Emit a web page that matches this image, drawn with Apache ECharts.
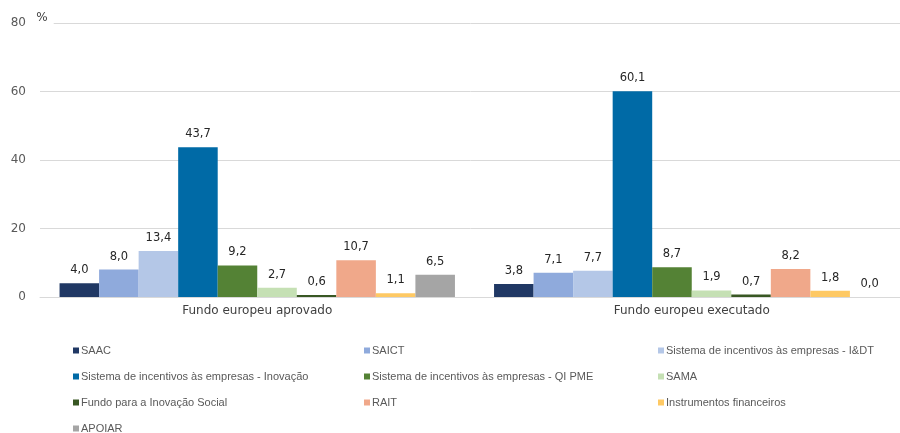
<!DOCTYPE html>
<html>
<head>
<meta charset="utf-8">
<script src="https://cdn.jsdelivr.net/npm/echarts@6/dist/echarts.min.js"></script>
<style>
	html, body { margin: 0; padding: 0; background: #fff; }
	#chart { width: 900px; height: 433px; }
</style>
</head>
<body>
<div id="chart"></div>
<script>
	// categorias do eixo x
	var categories = ['Fundo europeu aprovado', 'Fundo europeu executado']

	// nomes das séries (ordem do gráfico)
	var seriesNames = [
		'SAAC',
		'SAICT',
		'Sistema de incentivos às empresas - I&DT',
		'Sistema de incentivos às empresas - Inovação',
		'Sistema de incentivos às empresas - QI PME',
		'SAMA',
		'Fundo para a Inovação Social',
		'RAIT',
		'Instrumentos financeiros',
		'APOIAR'
	]

	// valores (%) por série: [aprovado, executado]
	var saac = [4.0, 3.8]
	var saict = [8.0, 7.1]
	var siIDT = [13.4, 7.7]
	var siInovacao = [43.7, 60.1]
	var siQIPME = [9.2, 8.7]
	var sama = [2.7, 1.9]
	var fundoSocial = [0.6, 0.7]
	var rait = [10.7, 8.2]
	var instrFinanceiros = [1.1, 1.8]
	var apoiar = [6.5, 0.0]

	var seriesValues = [saac, saict, siIDT, siInovacao, siQIPME, sama, fundoSocial, rait, instrFinanceiros, apoiar]

	var colors = ['#203864', '#8faadc', '#b4c7e7', '#006aa6', '#548235',
		'#c5e0b4', '#385723', '#f0a88a', '#fec964', '#a5a5a5']

	var chart = echarts.init(document.getElementById('chart'))

	function makeLegend (names, left) {
		return {
			orient: 'vertical',
			left: left,
			top: 340,
			height: 120,
			itemWidth: 6,
			itemHeight: 6,
			itemGap: 15,
			icon: 'rect',
			selectedMode: false,
			textStyle: {
				fontFamily: 'Liberation Sans',
				fontSize: 11,
				color: '#595959',
				padding: [0, 0, 0, -3]
			},
			data: names
		}
	}

	var series = seriesNames.map(function (name, i) {
		return {
			name: name,
			type: 'bar',
			data: seriesValues[i],
			barGap: 0,
			barCategoryGap: '9%',
			itemStyle: { color: colors[i] },
			label: {
				show: true,
				position: 'top',
				distance: 7,
				fontFamily: 'DejaVu Sans',
				fontSize: 11.5,
				color: '#262626',
				formatter: function (p) {
					return p.value.toFixed(1).replace('.', ',')
				}
			}
		}
	})

	var option = {
		backgroundColor: '#fff',
		animation: false,
		color: colors,
		legend: [
			makeLegend([seriesNames[0], seriesNames[3], seriesNames[6], seriesNames[9]], 68),
			makeLegend([seriesNames[1], seriesNames[4], seriesNames[7]], 359),
			makeLegend([seriesNames[2], seriesNames[5], seriesNames[8]], 653)
		],
		grid: {
			left: 40,
			width: 869,
			top: 23,
			bottom: 136,
			containLabel: false,
			outerBoundsMode: 'none'
		},
		xAxis: {
			type: 'category',
			data: categories,
			axisTick: { show: false },
			axisLine: { lineStyle: { color: '#d9d9d9' } },
			axisLabel: {
				fontFamily: 'DejaVu Sans',
				fontSize: 12,
				color: '#404040',
				margin: 8
			}
		},
		yAxis: {
			type: 'value',
			min: 0,
			max: 80,
			interval: 20,
			name: '%',
			nameLocation: 'end',
			nameGap: -3,
			nameMoveOverlap: false,
			nameTextStyle: {
				fontFamily: 'DejaVu Sans',
				fontSize: 12,
				color: '#404040',
				backgroundColor: '#fff',
				padding: [0, 6, 2, 10]
			},
			axisLine: { show: false },
			axisTick: { show: false },
			splitLine: { lineStyle: { color: '#d9d9d9' } },
			axisLabel: {
				fontFamily: 'DejaVu Sans',
				fontSize: 12,
				color: '#595959',
				margin: 14
			}
		},
		series: series
	}

	chart.setOption(option)
</script>
</body>
</html>
